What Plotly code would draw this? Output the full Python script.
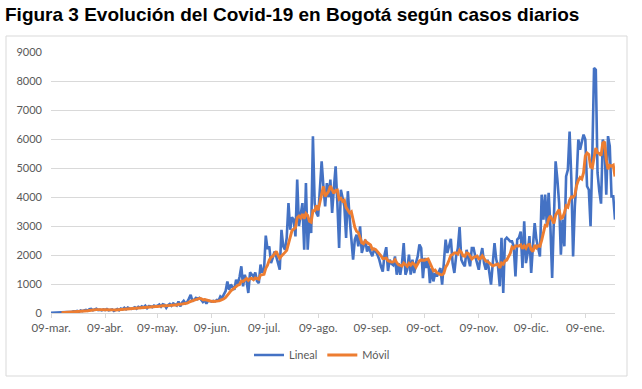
import pandas as pd
import plotly.graph_objects as go

start_date = "2020-03-09"

lineal = [
    3, 5, 8, 12, 9, 15, 20, 25, 18, 30,
    35, 28, 45, 60, 50, 70, 40, 85, 65, 90,
    110, 80, 130, 140, 95, 120, 145, 100, 115, 90,
    120, 100, 135, 90, 110, 125, 70, 105, 140, 95,
    150, 120, 180, 130, 185, 160, 140, 170, 200, 150,
    210, 180, 230, 190, 250, 170, 240, 230, 200, 260,
    230, 250, 290, 220, 300, 280, 180, 270, 310, 250,
    330, 300, 260, 400, 230, 350, 420, 330, 380, 500,
    630, 400, 460, 520, 480, 520, 460, 380, 440, 320,
    430, 410, 390, 420, 400, 450, 430, 570, 520, 640,
    760, 1090, 800, 980, 900, 800, 1150, 1000, 1250, 1610,
    920, 1320, 1100, 690, 1400, 1320, 1250, 1400, 1100, 1030,
    1670, 1400, 1490, 2670, 2200, 2300, 1720, 1900, 2120, 1950,
    1720, 1490, 2870, 2300, 2180, 2600, 3790, 2870, 3300, 3220,
    2640, 4600, 3000, 3330, 3790, 2180, 4480, 2180, 3210, 2760,
    6090, 3790, 3450, 3330, 4300, 5230, 4370, 3680, 4480, 4000,
    4600, 3450, 4300, 5060, 3790, 2240, 4250, 3900, 3680, 2590,
    4200, 3300, 2530, 1840, 2530, 2700, 2300, 2990, 2070, 2300,
    2530, 2120, 2300, 2100, 1960, 2180, 2120, 2000, 1840, 1600,
    1430, 2000, 2270, 1450, 1840, 1700, 1650, 1950, 1320, 1720,
    1320, 1700, 2410, 1320, 1490, 2010, 1320, 1840, 1380, 1720,
    1950, 2360, 2240, 1200, 1900, 1550, 1840, 1030, 1550, 1090,
    1380, 1260, 1400, 1550, 980, 1950, 2530, 2070, 2300, 2560,
    1720, 1380, 1950, 2240, 2960, 1840, 1700, 1610, 2180, 1840,
    1610, 2240, 2240, 1950, 1700, 1490, 1950, 2240, 1720, 1490,
    1840, 1400, 980, 1720, 2410, 1840, 1610, 920, 2590, 690,
    2530, 2600, 2550, 2470, 2470, 2300, 1260, 2530, 2600, 2810,
    1550, 3160, 1720, 2070, 2650, 1380, 2300, 3100, 2530, 2200,
    1950, 4080, 3220, 4080, 2990, 4140, 2990, 1210, 2990, 5230,
    4600, 3790, 2010, 3220, 2300, 4710, 4940, 6260, 4600, 1950,
    3680, 4600, 5980, 5630, 5900, 6150, 5980, 4370, 4250, 2990,
    5400, 8450, 8390, 4830, 4200, 3770, 5980, 5750, 4080, 6100,
    5750, 4020, 4020, 3220,
]

movil = [None] * 6 + [
    10, 13, 15, 18, 22, 24, 29, 34, 38, 45,
    47, 54, 59, 66, 73, 77, 86, 100, 101, 109,
    117, 116, 121, 115, 112, 113, 115, 107, 109, 110,
    107, 105, 111, 105, 114, 115, 123, 131, 143, 146,
    152, 155, 166, 162, 174, 173, 183, 190, 201, 197,
    210, 213, 216, 220, 226, 226, 243, 240, 250, 261,
    250, 256, 264, 259, 274, 274, 271, 303, 297, 303,
    327, 327, 339, 373, 406, 430, 446, 460, 481, 501,
    496, 460, 466, 446, 433, 423, 404, 399, 401, 403,
    419, 439, 454, 490, 539, 637, 687, 766, 813, 853,
    926, 960, 983, 1099, 1090, 1150, 1193, 1127, 1184, 1194,
    1143, 1211, 1180, 1170, 1310, 1310, 1334, 1537, 1651, 1823,
    1921, 1954, 2057, 2123, 1987, 1886, 1967, 2050, 2090, 2159,
    2421, 2586, 2844, 2894, 2943, 3289, 3346, 3280, 3411, 3251,
    3431, 3366, 3167, 3133, 3527, 3527, 3709, 3544, 3847, 4136,
    4366, 4021, 4120, 4199, 4380, 4259, 4126, 4224, 4240, 3920,
    3956, 3856, 3889, 3644, 3521, 3451, 3493, 3149, 2953, 2813,
    2771, 2599, 2423, 2390, 2489, 2430, 2373, 2344, 2197, 2213,
    2187, 2111, 2071, 1971, 1876, 1881, 1894, 1799, 1776, 1756,
    1763, 1837, 1740, 1661, 1643, 1623, 1724, 1677, 1611, 1710,
    1653, 1727, 1681, 1583, 1673, 1797, 1830, 1813, 1821, 1846,
    1863, 1731, 1616, 1451, 1477, 1386, 1364, 1323, 1316, 1373,
    1579, 1677, 1826, 1991, 2016, 2073, 2073, 2031, 2159, 2093,
    1970, 1954, 2069, 2053, 1963, 1860, 1917, 1953, 1966, 1867,
    1883, 1973, 1899, 1791, 1776, 1733, 1660, 1627, 1651, 1669,
    1686, 1554, 1724, 1683, 1799, 1826, 1927, 2050, 2271, 2230,
    2311, 2311, 2311, 2349, 2217, 2316, 2233, 2349, 2366, 2191,
    2119, 2340, 2250, 2319, 2301, 2506, 2769, 3023, 3007, 3237,
    3350, 3244, 3089, 3376, 3450, 3564, 3260, 3293, 3449, 3694,
    3653, 3890, 4006, 3997, 4063, 4391, 4573, 4671, 4620, 4841,
    5417, 5516, 5466, 5039, 5006, 5370, 5690, 5526, 5501, 5433,
    5860, 5910, 5286, 4959, 5090, 5064, 5100, 4706,
]

tick_dates = ["2020-03-09", "2020-04-09", "2020-05-09", "2020-06-09", "2020-07-09",
              "2020-08-09", "2020-09-09", "2020-10-09", "2020-11-09", "2020-12-09",
              "2021-01-09"]
tick_labels = ["09-mar.", "09-abr.", "09-may.", "09-jun.", "09-jul.", "09-ago.",
               "09-sep.", "09-oct.", "09-nov.", "09-dic.", "09-ene."]

assert len(lineal) == len(movil), (len(lineal), len(movil))
fechas = pd.date_range(start_date, periods=len(lineal), freq="D")

W, H = 642, 389
L, R, T, B = 51, 27, 52, 76
pw, ph = W - L - R, H - T - B

def px_x(x):
    return (x - L) / pw

def px_y(y):
    return (H - B - y) / ph

grey = "#595959"
fnt = "Lato, Carlito, 'Open Sans', sans-serif"

fig = go.Figure()
fig.add_trace(go.Scatter(x=fechas, y=lineal, mode="lines", name="Lineal",
                         line=dict(color="#4472C4", width=2.6)))
fig.add_trace(go.Scatter(x=fechas, y=movil, mode="lines", name="Móvil",
                         line=dict(color="#ED7D31", width=2.9)))

fig.update_layout(
    width=W, height=H,
    margin=dict(l=L, r=R, t=T, b=B),
    paper_bgcolor="white", plot_bgcolor="white",
    title=dict(text="<b>Figura 3 Evolución del Covid-19 en Bogotá según casos diarios</b>",
               x=5 / W, xref="container", xanchor="left",
               y=1 - 14 / H, yref="container", yanchor="middle",
               font=dict(family="Arial, 'Liberation Sans', sans-serif", size=19, color="black")),
    showlegend=True,
    legend=dict(orientation="h", x=px_x(322), xanchor="center", y=px_y(355), yanchor="middle",
                font=dict(family=fnt, size=11, color=grey), bgcolor="rgba(0,0,0,0)"),
    xaxis=dict(type="date", range=[fechas[0], fechas[-1]],
               tickmode="array", tickvals=tick_dates, ticktext=tick_labels,
               ticks="outside", ticklen=4, tickcolor="#D9D9D9",
               showline=True, linecolor="#D9D9D9", linewidth=1,
               showgrid=False, zeroline=False,
               tickfont=dict(family=fnt, size=11.5, color=grey)),
    yaxis=dict(range=[0, 9000], tickmode="linear", tick0=0, dtick=1000,
               showgrid=True, gridcolor="#D9D9D9", gridwidth=1,
               zeroline=False, showline=False, ticks="",
               ticklabelstandoff=8,
               tickfont=dict(family=fnt, size=11, color=grey)),
    shapes=[dict(type="rect", xref="paper", yref="paper",
                 x0=px_x(6), x1=px_x(627), y0=px_y(376), y1=px_y(36),
                 line=dict(color="#D9D9D9", width=1), fillcolor="rgba(0,0,0,0)",
                 layer="below")],
)

fig.write_html("out.html",
               config={"displayModeBar": False},
               post_script="document.body.style.margin='0';document.body.style.padding='0';"
                           "document.body.style.overflow='hidden';")
